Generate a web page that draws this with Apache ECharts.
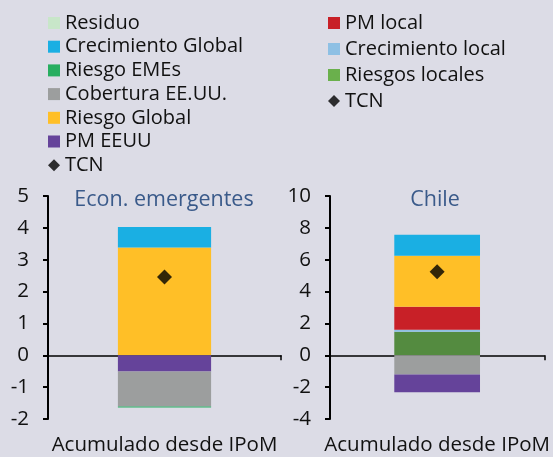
<!DOCTYPE html>
<html>
<head>
<meta charset="utf-8">
<script src="https://cdn.jsdelivr.net/npm/echarts@6/dist/echarts.min.js"></script>
<style>
  html, body { margin: 0; padding: 0; background: #dcdce6; }
  #chart { width: 553px; height: 457px; }
</style>
</head>
<body>
<div id="chart"></div>
<script>
// categoría
const categories = ['Acumulado desde IPoM']

// Econ. emergentes
const emeRiesgoGlobal = [3.38]
const emeCrecGlobal = [0.65]
const emePmEeuu = [-0.51]
const emeCobertura = [-1.1]
const emeRiesgoEmes = [-0.03]
const emeResiduo = [0]
const emeTcn = [2.46]

// Chile
const clRiesgosLocales = [1.48]
const clCrecLocal = [0.12]
const clPmLocal = [1.45]
const clRiesgoGlobal = [3.2]
const clCrecGlobal = [1.32]
const clCobertura = [-1.21]
const clPmEeuu = [-1.11]
const clTcn = [5.25]

const colors = {
  residuo: '#c8e6c9',
  crecGlobal: '#1aafe3',
  riesgoEmes: '#27ae60',
  cobertura: '#9c9e9e',
  riesgoGlobal: '#ffbf27',
  pmEeuu: '#65439a',
  pmLocal: '#c82027',
  crecLocal: '#8ec0e4',
  riesgosLocales: '#6ab04c',
  riesgosLocalesBar: '#548b40'
}

const font = 'Open Sans'
const chart = echarts.init(document.getElementById('chart'))

function bar(name, data, grid, stack, color, barColor) {
  return {
    name,
    type: 'bar',
    xAxisIndex: grid * 2,
    yAxisIndex: grid,
    stack,
    barWidth: '40%',
    data: data.map(v => barColor ? { value: v, itemStyle: { color: barColor } } : v),
    itemStyle: { color },
    emphasis: { disabled: true }
  }
}

function tcn(data, grid) {
  return {
    name: 'TCN',
    type: 'scatter',
    xAxisIndex: grid * 2,
    yAxisIndex: grid,
    symbol: 'diamond',
    symbolSize: 15,
    itemStyle: { color: '#000' },
    data,
    z: 5
  }
}

function xAxes(grid) {
  return [
    {
      type: 'category',
      gridIndex: grid,
      data: categories,
      axisLine: { onZero: true, lineStyle: { color: '#000', width: 1.5 } },
      axisTick: { show: true, length: 5, lineStyle: { color: '#000', width: 1.5 } },
      axisLabel: { show: false }
    },
    {
      type: 'category',
      gridIndex: grid,
      position: 'bottom',
      data: categories,
      axisLine: { show: false, onZero: false },
      axisTick: { show: false },
      axisLabel: { color: '#111', fontSize: 20.5, fontFamily: font, margin: 16 }
    }
  ]
}

function yAxis(grid, min, max, interval) {
  return {
    type: 'value',
    gridIndex: grid,
    min, max, interval,
    splitLine: { show: false },
    axisLine: { show: true, lineStyle: { color: '#000', width: 2 } },
    axisTick: { show: true, length: 5, lineStyle: { color: '#000', width: 2 } },
    axisLabel: { color: '#111', fontSize: 20.5, fontFamily: font, margin: 19 }
  }
}

const titleStyle = { color: '#3a5a8a', fontSize: 21.5, fontWeight: 'normal', fontFamily: font }

const option = {
  backgroundColor: '#dcdce6',
  animation: false,
  title: [
    { text: 'Econ. emergentes', left: 159, top: 184, textAlign: 'center', textStyle: titleStyle },
    { text: 'Chile', left: 430, top: 184, textAlign: 'center', textStyle: titleStyle }
  ],
  legend: [
    {
      orient: 'vertical', left: 43, top: 8, itemWidth: 12, itemHeight: 12, itemGap: 3.7,
      textStyle: { fontSize: 20, fontFamily: font, color: '#111', padding: [0, 0, 0, 0] },
      data: [
        { name: 'Residuo', icon: 'rect' },
        { name: 'Crecimiento Global', icon: 'rect' },
        { name: 'Riesgo EMEs', icon: 'rect' },
        { name: 'Cobertura EE.UU.', icon: 'rect' },
        { name: 'Riesgo Global', icon: 'rect' },
        { name: 'PM EEUU', icon: 'rect' },
        { name: 'TCN', icon: 'diamond', itemStyle: { color: '#000' } }
      ]
    },
    {
      orient: 'vertical', left: 323, top: 8, itemWidth: 12, itemHeight: 12, itemGap: 6,
      textStyle: { fontSize: 20, fontFamily: font, color: '#111', padding: [0, 0, 0, 0] },
      data: [
        { name: 'PM local', icon: 'rect' },
        { name: 'Crecimiento local', icon: 'rect' },
        { name: 'Riesgos locales', icon: 'rect', itemStyle: { color: colors.riesgosLocales } },
        { name: 'TCN', icon: 'diamond', itemStyle: { color: '#000' } }
      ]
    }
  ],
  grid: [
    { left: 48, top: 196, width: 233, bottom: 38 },
    { left: 330, top: 196, width: 228, bottom: 38 }
  ],
  xAxis: [...xAxes(0), ...xAxes(1)],
  yAxis: [yAxis(0, -2, 5, 1), yAxis(1, -4, 10, 2)],
  series: [
    // Econ. emergentes
    bar('Riesgo Global', emeRiesgoGlobal, 0, 'eme', colors.riesgoGlobal),
    bar('PM EEUU', emePmEeuu, 0, 'eme', colors.pmEeuu),
    bar('Cobertura EE.UU.', emeCobertura, 0, 'eme', colors.cobertura),
    bar('Riesgo EMEs', emeRiesgoEmes, 0, 'eme', colors.riesgoEmes),
    bar('Crecimiento Global', emeCrecGlobal, 0, 'eme', colors.crecGlobal),
    bar('Residuo', emeResiduo, 0, 'eme', colors.residuo),
    tcn(emeTcn, 0),
    // Chile
    bar('Riesgos locales', clRiesgosLocales, 1, 'cl', colors.riesgosLocales, colors.riesgosLocalesBar),
    bar('Crecimiento local', clCrecLocal, 1, 'cl', colors.crecLocal),
    bar('PM local', clPmLocal, 1, 'cl', colors.pmLocal),
    bar('Riesgo Global', clRiesgoGlobal, 1, 'cl', colors.riesgoGlobal),
    bar('Crecimiento Global', clCrecGlobal, 1, 'cl', colors.crecGlobal),
    bar('Cobertura EE.UU.', clCobertura, 1, 'cl', colors.cobertura),
    bar('PM EEUU', clPmEeuu, 1, 'cl', colors.pmEeuu),
    tcn(clTcn, 1)
  ]
}

chart.setOption(option)
</script>
</body>
</html>
